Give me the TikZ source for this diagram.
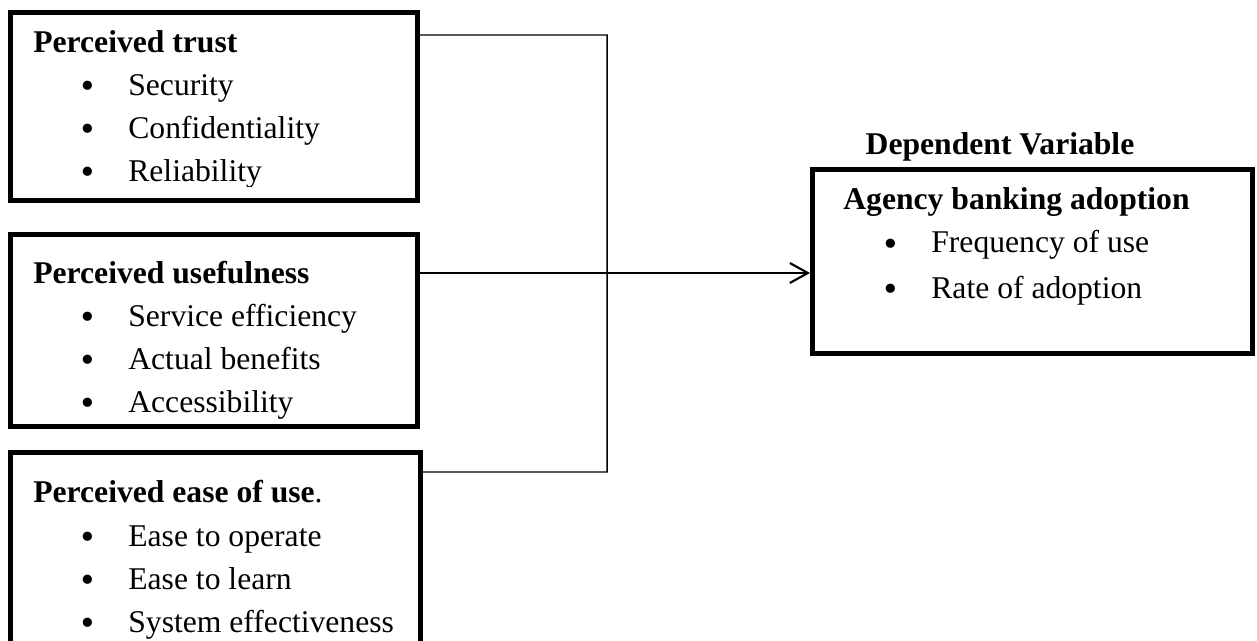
\documentclass[tikz,border=0pt]{standalone}
\usepackage{fontspec}
\setmainfont{Liberation Serif}
\newfontfamily\bulletfont{DejaVu Sans}
\usetikzlibrary{arrows.meta}

\newcommand{\bulletitem}[1]{\makebox[0pt][c]{\raisebox{-0.04cm}{\bulletfont •}}\hspace{0.82cm}#1}

\begin{document}
\begin{tikzpicture}[x=1cm,y=1cm]
\tikzset{
  factorbox/.style={rectangle,draw=black,line width=0.1cm,inner sep=0pt},
  boxtitle/.style={anchor=base west,inner sep=0pt,font=\fontsize{18}{22}\selectfont\bfseries},
  boxitem/.style={anchor=base west,inner sep=0pt,font=\fontsize{18}{22}\selectfont},
  grouplabel/.style={anchor=base,inner sep=0pt,font=\fontsize{18}{22}\selectfont\bfseries},
  linkline/.style={draw=black,line width=0.85pt},
  mainlink/.style={draw=black,line width=1.2pt,-{Straight Barb[length=3.6mm,width=4mm]}}
}
\useasboundingbox (0,0) rectangle (25.14,-12.82);
\clip (0,0) rectangle (25.14,-12.82);
% boxes
\node[factorbox,minimum width=8.14cm,minimum height=3.76cm] (n_trust) at (4.28,-2.13) {};
\node[factorbox,minimum width=8.14cm,minimum height=3.84cm] (n_useful) at (4.28,-6.61) {};
\node[factorbox,minimum width=8.19cm,minimum height=4.35cm] (n_ease) at (4.305,-11.225) {};
\node[factorbox,minimum width=8.80cm,minimum height=3.68cm] (n_adopt) at (20.65,-5.23) {};
% perceived trust
\begin{scope}
\clip (0.26,-0.30) rectangle (8.30,-3.74);
\node[boxtitle] (n_trust_t) at (0.66,-1.06) {Perceived trust};
\node[boxitem] (n_trust_1) at (1.74,-1.92) {\bulletitem{Security}};
\node[boxitem] (n_trust_2) at (1.74,-2.78) {\bulletitem{Confidentiality}};
\node[boxitem] (n_trust_3) at (1.74,-3.64) {\bulletitem{Reliability}};
\end{scope}
% perceived usefulness
\node[boxtitle] (n_useful_t) at (0.66,-5.66) {Perceived usefulness};
\node[boxitem] (n_useful_1) at (1.74,-6.52) {\bulletitem{Service efficiency}};
\node[boxitem] (n_useful_2) at (1.74,-7.38) {\bulletitem{Actual benefits}};
\node[boxitem] (n_useful_3) at (1.74,-8.24) {\bulletitem{Accessibility}};
% perceived ease of use
\node[boxtitle] (n_ease_t) at (0.66,-10.04) {Perceived ease of use{\mdseries .}};
\node[boxitem] (n_ease_1) at (1.74,-10.92) {\bulletitem{Ease to operate}};
\node[boxitem] (n_ease_2) at (1.74,-11.78) {\bulletitem{Ease to learn}};
\node[boxitem] (n_ease_3) at (1.74,-12.64) {\bulletitem{System effectiveness}};
% dependent variable
\node[grouplabel] (n_dep) at (20.00,-3.10) {Dependent Variable};
\node[boxtitle] (n_adopt_t) at (16.86,-4.20) {Agency banking adoption};
\node[boxitem] (n_adopt_1) at (17.80,-5.06) {\bulletitem{Frequency of use}};
\node[boxitem] (n_adopt_2) at (17.80,-5.96) {\bulletitem{Rate of adoption}};
% connectors
\coordinate (c_trust) at ([yshift=-0.50cm]n_trust.north east);
\coordinate (c_useful) at ([yshift=-0.82cm]n_useful.north east);
\coordinate (c_ease) at ([yshift=-0.44cm]n_ease.north east);
\coordinate (c_bus) at (12.14,-9.44);
\draw[linkline] (c_trust) -| (c_bus) -- (c_ease);
\draw[mainlink] (c_useful) -- (c_useful -| n_adopt.west);
\end{tikzpicture}
\end{document}
